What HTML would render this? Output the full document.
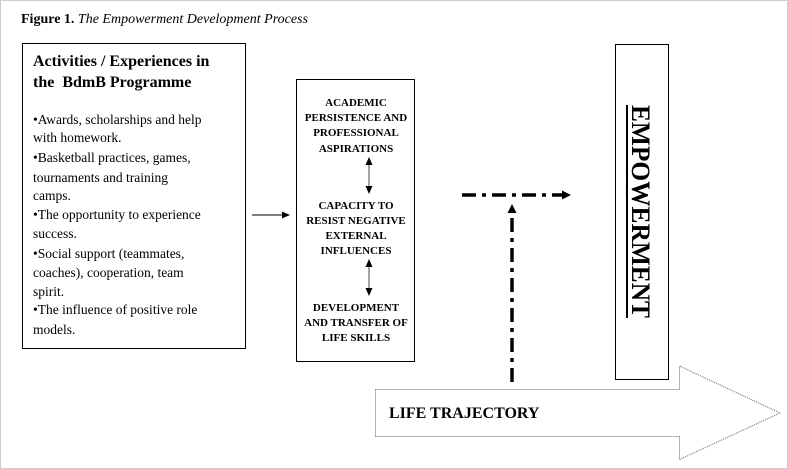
<!DOCTYPE html>
<html><head><meta charset="utf-8"><style>
body{margin:0;background:#fff}
svg{display:block;font-family:"Liberation Serif",serif}
</style></head><body>
<svg width="788" height="469" viewBox="0 0 788 469">
<rect x="0.5" y="0.5" width="787" height="468" fill="#fff" stroke="#ccc"/>
<text x="21" y="23" font-size="14" font-weight="bold">Figure 1. <tspan font-weight="normal" font-style="italic">The Empowerment Development Process</tspan></text>
<rect x="22.5" y="43.5" width="223" height="305" fill="none" stroke="#000"/>
<g font-size="16" font-weight="bold"><text x="33" y="66">Activities / Experiences in</text><text x="33" y="87">the &#160;BdmB Programme</text></g>
<g font-size="13.5">
<text x="33" y="124">•Awards, scholarships and help</text>
<text x="33" y="142">with homework.</text>
<text x="33" y="162">•Basketball practices, games,</text>
<text x="33" y="182">tournaments and training</text>
<text x="33" y="200">camps.</text>
<text x="33" y="219">•The opportunity to experience</text>
<text x="33" y="238">success.</text>
<text x="33" y="258">•Social support (teammates,</text>
<text x="33" y="277">coaches), cooperation, team</text>
<text x="33" y="296">spirit.</text>
<text x="33" y="314">•The influence of positive role</text>
<text x="33" y="334">models.</text>
</g>
<line x1="252" y1="215" x2="283" y2="215" stroke="#000"/>
<polygon points="290,215 282,211.5 282,218.5" fill="#000"/>
<rect x="296.5" y="79.5" width="118" height="282" fill="none" stroke="#000"/>
<g font-size="11" font-weight="bold" text-anchor="middle">
<text x="356" y="106">ACADEMIC</text><text x="356" y="121">PERSISTENCE AND</text><text x="356" y="136">PROFESSIONAL</text><text x="356" y="152">ASPIRATIONS</text>
<text x="356" y="209">CAPACITY TO</text><text x="356" y="224">RESIST NEGATIVE</text><text x="356" y="239">EXTERNAL</text><text x="356" y="254">INFLUENCES</text>
<text x="356" y="311">DEVELOPMENT</text><text x="356" y="326">AND TRANSFER OF</text><text x="356" y="341">LIFE SKILLS</text>
</g>
<g stroke="#444"><line x1="369" y1="163" x2="369" y2="188"/><line x1="369" y1="265" x2="369" y2="290"/></g>
<g fill="#000"><polygon points="369,157 365.5,165 372.5,165"/><polygon points="369,194 365.5,186 372.5,186"/><polygon points="369,259 365.5,267 372.5,267"/><polygon points="369,296 365.5,288 372.5,288"/></g>
<line x1="462" y1="195" x2="565" y2="195" stroke="#000" stroke-width="3.5" stroke-dasharray="14,6,4,6"/>
<polygon points="571,195 562,190.5 562,199.5" fill="#000"/>
<line x1="512" y1="382" x2="512" y2="213" stroke="#000" stroke-width="3.5" stroke-dasharray="14,6,4,6"/>
<polygon points="512,204 507.5,213 516.5,213" fill="#000"/>
<rect x="615.5" y="44.5" width="53" height="335" fill="#fff" stroke="#000"/>
<text transform="translate(632,105) rotate(90)" font-size="26" font-weight="bold" textLength="213" lengthAdjust="spacingAndGlyphs">EMPOWERMENT</text>
<line x1="627" y1="105" x2="627" y2="318" stroke="#000" stroke-width="2"/>
<polygon points="375.5,389.5 679.5,389.5 679.5,366 780,413 679.5,459.5 679.5,436.5 375.5,436.5" fill="#fff" stroke="#666" stroke-dasharray="1,1"/>
<text x="389" y="418" font-size="16" font-weight="bold">LIFE TRAJECTORY</text>
</svg>
</body></html>
